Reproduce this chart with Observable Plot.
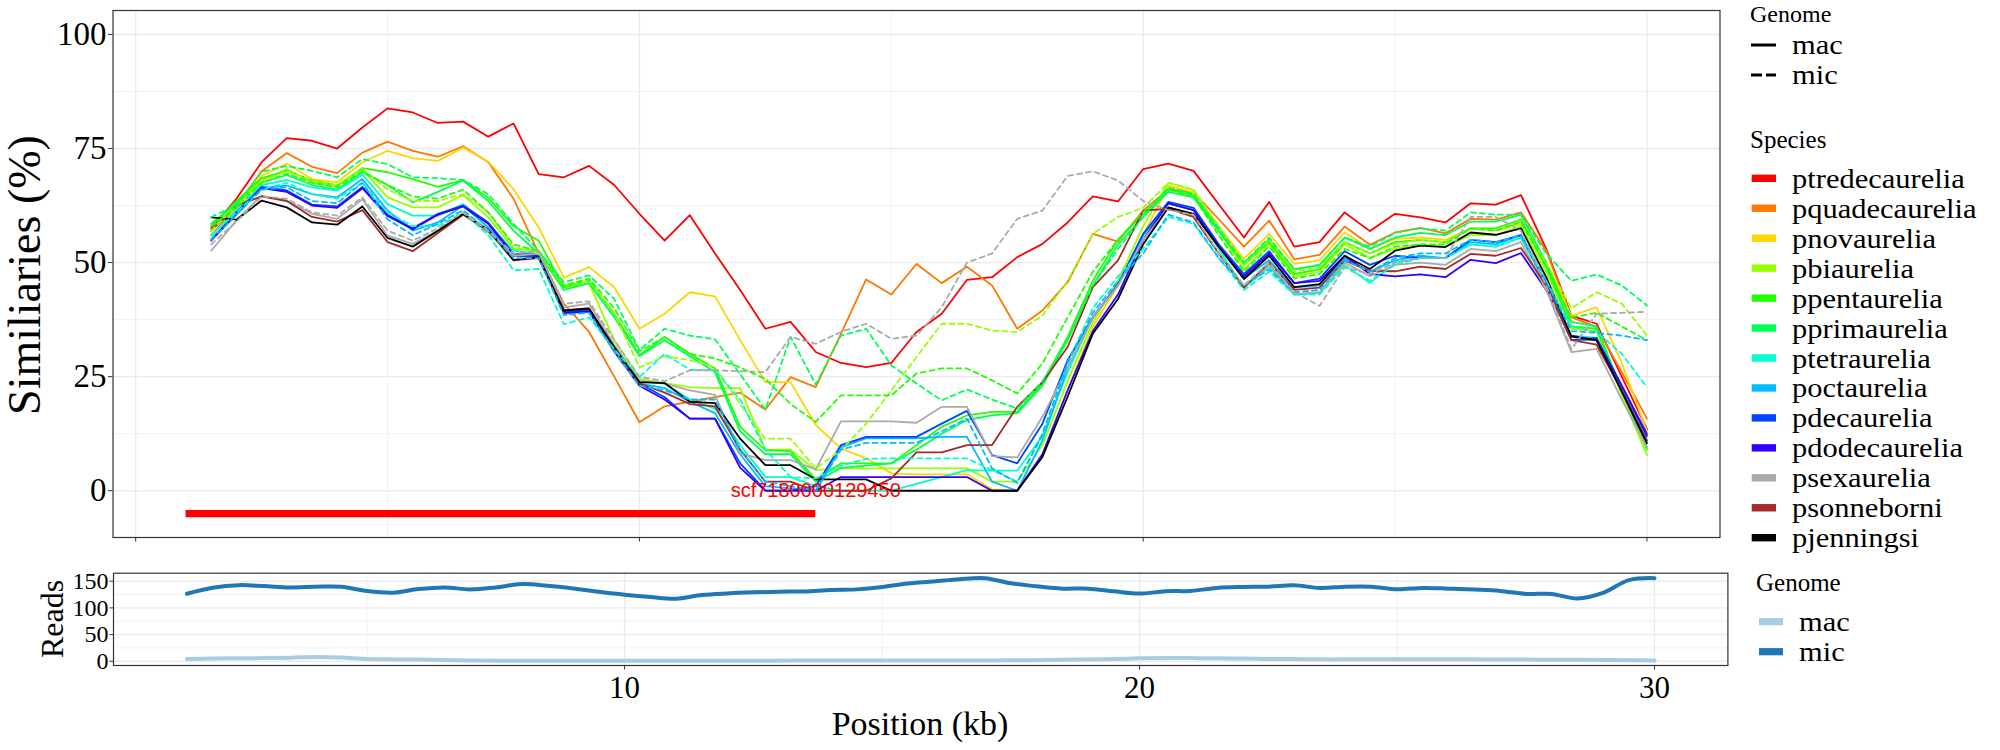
<!DOCTYPE html>
<html><head><meta charset="utf-8">
<script src="https://cdn.jsdelivr.net/npm/d3@7"></script>
<script src="https://cdn.jsdelivr.net/npm/@observablehq/plot@0.6"></script>
<style>
body{margin:0;background:#fff;}
#wrap{position:relative;width:2000px;height:750px;overflow:hidden;background:#fff;font-family:"Liberation Serif","Times New Roman",serif;}
#wrap > svg, #wrap > figure{position:absolute;margin:0;}
</style></head><body><div id="wrap"></div>
<script>
// ---------- data ----------
const positions = [1.5,2,2.5,3,3.5,4,4.5,5,5.5,6,6.5,7,7.5,8,8.5,9,9.5,10,10.5,11,11.5,12,12.5,13,13.5,14,14.5,15,15.5,16,16.5,17,17.5,18,18.5,19,19.5,20,20.5,21,21.5,22,22.5,23,23.5,24,24.5,25,25.5,26,26.5,27,27.5,28,28.5,29,29.5,30];

const species = ["ptredecaurelia","pquadecaurelia","pnovaurelia","pbiaurelia","ppentaurelia","pprimaurelia","ptetraurelia","poctaurelia","pdecaurelia","pdodecaurelia","psexaurelia","psonneborni","pjenningsi"];
const speciesColors = ["#FF0000","#FF7700","#FFD500","#99FF00","#22FF00","#00FF55","#00FFCC","#00BBFF","#0044FF","#3300FF","#AAAAAA","#A52A2A","#000000"];
const genomes = ["mac","mic"];
const readsColors = ["#A6CEE3","#1F78B4"];

// similarity (%) per species, mac genome
const ptredecaurelia_mac = [57.5,64,72,77.3,76.7,75,79.6,83.8,82.9,80.6, 80.9,77.6,80.5,69.4,68.7,71.2,67,60.7,54.8,60.4, 52,44,35.5,37,30.4,28,27.1,28,34.8,38.8, 46.2,46.8,51.2,54.1,58.8,64.5,63.4,70.5,71.7,70.1, 62.8,55.5,63.3,53.5,54.5,61,56.9,60.7,59.9,58.8, 63,62.7,64.8,53,38.4,36.6,25,13.5];
const pquadecaurelia_mac = [56,62.5,70,74,71,69.6,74.1,76.5,74.5,73.2, 75.5,72,64,52,41,34.8,25,15,18.5,19.5, 20.5,21.5,17.8,24.9,22.7,34.4,46.3,43,49.7,45.5, 49.1,45,35.5,39.5,45.7,56.3,54.6,61.4,66.1,65.4, 59.5,53.5,59.2,50.7,51.7,57.9,53.9,56.6,57.6,56.4, 59.6,59.4,61,52.6,38,35.9,26,15.8];
const pnovaurelia_mac = [55.5,62,69,71.7,68.3,67.6,72,74.5,72.9,72.3, 75.2,72.1,66.1,57.7,46.7,49,44.6,35.5,38.8,43.5, 42.6,33,23.8,23.8,14.4,9.3,7.1,3.8,3.6,3.6, 3.6,0.3,0,8,22,36,45,56,66.9,65.4, 58,50.8,56.3,49.7,50.5,56.6,53,55.2,55.5,55, 57.5,57,59,50,38.4,40.2,28,13];
const pbiaurelia_mac = [57,63,68,70.5,67.5,66.8,70.5,64.3,62.1,62.1, 64.8,59.9,53,52.6,44.5,45.5,33,24.5,23.6,22.7, 22.5,22.5,9,9,4.5,4.9,4.9,4.9,4.9,4.9, 4.9,2,2,10,24,37,46,58,67.5,65.9, 57,48.5,54,47,48,54,51,53,54,53.5, 56,56,58,48,35.5,35,21,7.8];
const ppentaurelia_mac = [58,63.5,68.5,70.1,68,66.9,70.7,69.8,68.3,66.6, 68.1,64.2,58,54.8,44.6,46.1,38.8,29.7,33.7,30, 26.8,14,8.9,8.7,2.5,6,6,6,10,14, 16.5,17.3,17.3,23.6,33.7,46,55,60.7,66,64.8, 57,49.5,54.5,47.5,48.5,54.5,52,54.5,55,54.5, 57.5,57.5,59.5,49,36,35.5,22,9];
const pprimaurelia_mac = [58.5,63,67.5,69.2,67,66,69.8,67,63.2,65.5, 68,63.5,57,52,44,45.5,38,29.5,33,29.5, 26,13,8,8,2,5,5.5,6,9,12.5, 15.5,16.5,17,23,33,45,54,60,65.5,64.3, 57,50,55,48.5,49.5,55.5,53,55.5,56.5,56, 59,59,60.5,50,37,36,22,9.5];
const ptetraurelia_mac = [56,61.5,67,68.1,66.5,65.8,69.3,62.8,60.3,60.3, 62.8,58.5,52.6,51.9,39.5,39.7,31,24,23.5,20, 18,10,3,3,1,0,0,0,1.5,3, 4.5,4.4,4.4,12,26,38,45,55,63,61.5, 53,44.5,49,43,43.3,49.5,45.5,50,51,51, 54,53.5,55.5,45,34,33.5,22,11];
const poctaurelia_mac = [55,60.5,66.3,66.9,65,64.3,68.3,61.4,57,58.8, 62.5,57.7,51.5,51.5,38.8,39.2,31,23.5,22.5,19.5, 17,8,1,0.5,0,9.5,11.5,11.5,11.5,11.8, 11.8,2,0,11,27,38,45,56,63,61.5, 53.5,46.5,50.5,44.5,45,51,48,50.5,51.5,51, 54.5,54,56,45,33,33,22,11];
const pdecaurelia_mac = [54.8,60.7,66.6,65.8,62.7,62.3,66.6,60.5,57.5,60.7, 62.5,58.8,51.9,51.8,39.2,39.5,31,23.5,20.5,15.8, 15.8,6,0.1,0,1,10,11.8,11.8,11.8,14.7, 17.5,7.8,6,14.7,28.6,38,45.3,56.3,63.3,62, 54,47.5,52.5,45.5,46.5,52.5,49.5,51.5,51,51, 55,54.5,56,45.5,33,33.5,23,12.5];
const pdodecaurelia_mac = [55,61,66.3,65.5,62.5,62,66.3,60.2,57.3,60.5, 62.3,58.5,51.5,51.5,39,39.3,30.5,23,20,15.8, 15.8,5,0,0,0,3,3,3,3,3, 3,0,0,8,22,35,43,55,63,61.5, 53.5,47,52,45.5,46,51.5,47.5,47,47.4,46.8, 50.6,49.9,52.1,44,34,33,23,12];
const psexaurelia_mac = [52.6,59.2,64.7,63.6,60.7,59.6,63.9,55.9,54.1,57, 60.7,56.6,51.5,51.9,40.2,41,32,24,23.5,22, 21,8.2,6.7,6.7,4.7,15.2,15.2,15.2,14.9,18.4, 18.4,7.6,7.3,16.2,27,38,45,55,62,60, 52,44.6,49.5,43.1,43.5,50,47,49.5,50,49.5, 53,52.5,54.5,44,30.4,31.1,20,9.5];
const psonneborni_mac = [57,62.5,64.5,63.5,60,59,61.5,54.5,52.5,56.5, 60.5,57,50.5,51,39.5,40,31,23.5,21.5,19, 18.5,9,2,2,0,0,0,2.7,8.4,8.4, 10,10,18.4,23.8,31.5,44.6,50.5,61.4,61.8,60, 52,44.5,50,44,44.5,50.5,48.2,48.1,49.1,48.6, 51.9,51.5,53.2,45,33,32,22,11];
const pjenningsi_mac = [59.9,59.4,63.6,62.1,58.8,58.3,62.3,55.4,53.5,57, 60.7,57.2,50.6,51.2,39.5,39.9,31.5,23.8,23.6,19.5, 19.2,11.4,5.6,5.6,2.5,2.5,2.5,0,0,0, 0,0,0,7.4,20.6,34.4,42,54,62.1,60.7, 53.5,46.4,51.5,44.6,45.3,51.5,48.6,52.6,53.7,53.4, 56.6,56.1,57.5,46.8,33.8,33,21.7,10.4];

// similarity (%) per species, mic genome
const pbiaurelia_mic = [57,62.5,68,70,68,67,70.5,66,63.5,63.5, 65,61,53.5,52,45,46,39,27,29.5,28.6, 27.1,19,11.4,11.4,4.9,8.9,14.7,22,29.3,36.6, 36.6,35.1,34.8,38.4,46,56.3,60,62,67.5,66, 58,49.5,55,48,49,54.5,52,54,55,54.5, 57.5,57,58.5,50,40,43.5,41,34];
const ppentaurelia_mic = [58,62,67.5,69.5,67.5,66.5,70,67,64.5,64, 66,61,54,52.5,45,46.5,40,30.5,33.7,30, 29,27,24.5,19,15.1,20.9,20.9,20.9,25.7,26.8, 26.8,24.2,21.3,27.9,38,48,55,61,66,64.5, 56,48,53.5,46.5,47.5,53,51,53.5,54,54, 57.5,57,59,49,38,39,36,33];
const pprimaurelia_mic = [60,62.5,69.9,71.2,70.1,68.7,72.7,71.6,68.7,68.5, 68.1,65,58.5,52.6,45.7,47.2,42,30.8,35.5,34, 33.2,25.5,17.8,33.7,23.3,34,35.5,27.5,23.5,19.8, 22.2,20,18,24,33,45,53,60,66.5,65, 57.5,50,55.5,48.5,49.5,55.5,53.5,56.5,57.5,57, 61,60.5,60.5,52,46,47.4,45,40.6];
const ptetraurelia_mic = [56,61,66,67.5,65,64,67.5,61,58,58, 61,56,48.3,48.6,36.5,38,31,24.9,30,26.5, 26.4,20,9,3,2.7,5.5,7,7.1,7.1,7.1, 7.1,4.5,2,12,28,40,47,53,60,58.5, 51,44,48,43,43,49,46,49.5,51,51, 54,53.5,55.5,46,36,34.8,30,22.7];
const poctaurelia_mic = [55,60.5,66,66.5,63.5,63,67.5,59.5,56,58.5, 61.5,57,51,51,38.5,39,30.5,23,22,20, 20,9,2,1,0,9,10.5,10.5,10.5,13, 15.8,4.9,1.7,12.5,28,39,46,52,60.5,58.8, 51,45,48.5,43.5,44,50.5,48,51,52,52, 55,54.5,56,46,35,34.6,34,33];
const psexaurelia_mic = [54,59,64.5,64,61,60.3,64.3,57,54.8,57.5, 61,57,52,52.5,41,41.5,33,25,24,26.4, 26.4,26.2,26,33.7,32.2,34.8,36.6,33.3,34,40.2, 50,52,59.6,61.4,69,70,68,63.5,61.5,60.5, 52,45,50,43.5,40.5,49,47.5,50,51,51, 60,60,57,45,31,38.8,39,39.2];

// read depth per genome
const reads_mac = [4.4,5,5.6,6,6.8,8.1,7,4.4,3.5,3.2, 2.5,1.4,1.2,1.2,1,1,1,1,1,1, 1,1,1.2,1.2,1.4,1.4,1.6,1.6,1.6,1.6, 1.6,1.6,1.8,2,2.8,3.5,4.2,5.6,6.2,6, 5.5,5,4.5,4.2,3.6,3.6,3.8,4,4,3.8, 3.6,3.4,3.2,3,3,2.6,2,1.4];
const reads_mic = [126.6,137.7,142.6,140.8,138.4,139.6,139.6,131.6,128.5,135.3, 138.4,134.7,138.4,144.6,141.5,136.5,130.3,124.8,120.4,117.3, 124.2,127.2,129.1,130.3,130.9,133.4,134.7,139,145.8,149.5, 153.8,155.7,146,140.4,136.1,136.1,131.2,126.8,131.2,131.8, 137.4,139.2,139.8,142.3,137.4,139.8,139.8,134.9,137.4,136.1, 134.3,131.8,126.2,126.2,117.5,128,152,155.7];

// contig annotation
const contigLabel = ["scf7180000129450"];
const contigStart = [1.0];
const contigEnd = [13.5];
const contigY = [-5];

// axis ticks
const simTicks = [0,25,50,75,100];
const simMinor = [12.5,37.5,62.5,87.5];
const posTicksMain = [0,10,20,30];
const posMinor = [5,15,25];
const readsTicks = [0,50,100,150];
const readsMinor = [25,75,125];

// ---------- build tables ----------
const macSeries = {ptredecaurelia:ptredecaurelia_mac,pquadecaurelia:pquadecaurelia_mac,pnovaurelia:pnovaurelia_mac,pbiaurelia:pbiaurelia_mac,ppentaurelia:ppentaurelia_mac,pprimaurelia:pprimaurelia_mac,ptetraurelia:ptetraurelia_mac,poctaurelia:poctaurelia_mac,pdecaurelia:pdecaurelia_mac,pdodecaurelia:pdodecaurelia_mac,psexaurelia:psexaurelia_mac,psonneborni:psonneborni_mac,pjenningsi:pjenningsi_mac};
const micSeries = {pbiaurelia:pbiaurelia_mic,ppentaurelia:ppentaurelia_mic,pprimaurelia:pprimaurelia_mic,ptetraurelia:ptetraurelia_mic,poctaurelia:poctaurelia_mic,psexaurelia:psexaurelia_mic};
function rows(obj, genome){
  const out=[];
  for (const sp of Object.keys(obj)) obj[sp].forEach((v,i)=>out.push({x:positions[i], y:v, species:sp, genome, key:sp+"_"+genome}));
  return out;
}
const macRows = rows(macSeries,"mac");
const micRows = rows(micSeries,"mic");
const readRows = [];
reads_mac.forEach((v,i)=>readRows.push({x:positions[i], y:v, genome:"mac"}));
reads_mic.forEach((v,i)=>readRows.push({x:positions[i], y:v, genome:"mic"}));
const contig = contigLabel.map((l,i)=>({label:l, x1:contigStart[i], x2:contigEnd[i], y:contigY[i]}));

const wrap = document.getElementById("wrap");
const GRID = "#EBEBEB";

// ---------- main similarity panel ----------
const main = Plot.plot({
  width: 1740, height: 545,
  marginLeft: 112.5, marginRight: 20.5, marginTop: 10, marginBottom: 8,
  x: {domain: [-0.45, 31.45]},
  y: {domain: [-10.25, 105.25]},
  color: {domain: species, range: speciesColors},
  style: {fontFamily: "'Liberation Serif', serif", fontSize: "33px", color: "black", background: "transparent", overflow: "visible"},
  marks: [
    Plot.gridX(posMinor, {stroke: GRID, strokeOpacity: 1, strokeWidth: 0.7}),
    Plot.gridY(simMinor, {stroke: GRID, strokeOpacity: 1, strokeWidth: 0.7}),
    Plot.gridX(posTicksMain, {stroke: GRID, strokeOpacity: 1, strokeWidth: 1.4}),
    Plot.gridY(simTicks, {stroke: GRID, strokeOpacity: 1, strokeWidth: 1.4}),
    Plot.line(macRows, {x: "x", y: "y", z: "key", stroke: "species", strokeWidth: 1.8}),
    Plot.line(micRows, {x: "x", y: "y", z: "key", stroke: "species", strokeWidth: 1.8, strokeDasharray: "5,4"}),
    Plot.ruleY(contig, {y: "y", x1: "x1", x2: "x2", stroke: "#FF0000", strokeWidth: 7.3}),
    Plot.text(contig, {x: "x2", y: 0, text: "label", fill: "#FF0000", fontFamily: "'Liberation Sans', Arial, sans-serif", fontSize: 20, textAnchor: "middle"}),
    Plot.frame({stroke: "#333333", strokeWidth: 1.2}),
    Plot.axisX({ticks: posTicksMain, tickSize: 4.5, tickFormat: () => "", label: null, stroke: "#333"}),
    Plot.axisY({ticks: simTicks, tickSize: 4.5, tickPadding: 2, label: null, fontSize: 33, stroke: "#333"})
  ]
});
main.style.left = "0px"; main.style.top = "0px";
wrap.appendChild(main);

// ---------- reads panel ----------
const reads = Plot.plot({
  width: 1750, height: 205,
  marginLeft: 113, marginRight: 22.6, marginTop: 27.7, marginBottom: 85,
  x: {domain: [0.075, 31.425]},
  y: {domain: [-7.9, 165]},
  color: {domain: genomes, range: readsColors},
  style: {fontFamily: "'Liberation Serif', serif", fontSize: "31px", color: "black", background: "transparent", overflow: "visible"},
  marks: [
    Plot.gridX(posMinor, {stroke: GRID, strokeOpacity: 1, strokeWidth: 0.7}),
    Plot.gridY(readsMinor, {stroke: GRID, strokeOpacity: 1, strokeWidth: 0.7}),
    Plot.gridX([10,20,30], {stroke: GRID, strokeOpacity: 1, strokeWidth: 1.4}),
    Plot.gridY(readsTicks, {stroke: GRID, strokeOpacity: 1, strokeWidth: 1.4}),
    Plot.line(readRows, {x: "x", y: "y", z: "genome", stroke: "genome", strokeWidth: 4, curve: "catmull-rom"}),
    Plot.frame({stroke: "#333333", strokeWidth: 1.2}),
    Plot.axisX({ticks: [10,20,30], tickSize: 4.5, tickPadding: 6, label: null, fontSize: 31, stroke: "#333"}),
    Plot.axisY({ticks: readsTicks, tickSize: 3.5, tickPadding: 1.5, label: null, fontSize: 24, stroke: "#333"})
  ]
});
reads.style.left = "0px"; reads.style.top = "545px";
wrap.appendChild(reads);

// ---------- titles and legends ----------
const ov = d3.select(wrap).append("svg")
  .attr("width", 2000).attr("height", 750)
  .style("left", "0px").style("top", "0px")
  .style("font-family", "'Liberation Serif', serif");

ov.append("text").attr("transform", "translate(40,275) rotate(-90)").attr("text-anchor", "middle").attr("font-size", 46).text("Similiaries (%)");
ov.append("text").attr("transform", "translate(63,619) rotate(-90)").attr("text-anchor", "middle").attr("font-size", 32).text("Reads");
ov.append("text").attr("x", 920).attr("y", 735).attr("text-anchor", "middle").attr("font-size", 34).text("Position (kb)");

// legend label helper: 27px glyphs widened to the reference's width, so rows do not collide
function label(x, y, s){
  ov.append("text").attr("transform", `translate(${x},${y}) scale(1.13,1)`).attr("font-size", 27).text(s);
}

// Genome (line type) legend
ov.append("text").attr("x", 1750).attr("y", 21.5).attr("font-size", 24).text("Genome");
const dashes = [null, "11,4"];
genomes.forEach((g, i) => {
  const cy = 45 + 30 * i;
  ov.append("line").attr("x1", 1751).attr("x2", 1776).attr("y1", cy).attr("y2", cy)
    .attr("stroke", "black").attr("stroke-width", 3).attr("stroke-dasharray", dashes[i]);
  label(1792, cy + 9, g);
});

// Species legend
ov.append("text").attr("x", 1750).attr("y", 148).attr("font-size", 25).text("Species");
species.forEach((s, i) => {
  const cy = 178.3 + 29.95 * i;
  ov.append("rect").attr("x", 1751.7).attr("y", cy - 3.7).attr("width", 24.3).attr("height", 7.4).attr("fill", speciesColors[i]);
  label(1792, cy + 9.5, s);
});

// Reads genome legend
ov.append("text").attr("x", 1756).attr("y", 591).attr("font-size", 25).text("Genome");
genomes.forEach((g, i) => {
  const cy = 621.7 + 30 * i;
  ov.append("rect").attr("x", 1759).attr("y", cy - 3.6).attr("width", 24).attr("height", 7.2).attr("fill", readsColors[i]);
  label(1799, cy + 9.3, g);
});
</script>
</body></html>
